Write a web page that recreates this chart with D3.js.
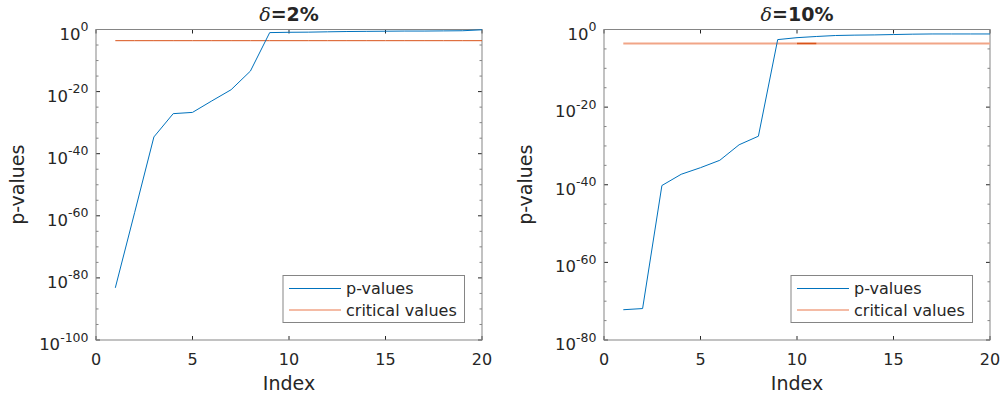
<!DOCTYPE html>
<html>
<head>
<meta charset="utf-8">
<script src="https://cdn.jsdelivr.net/npm/d3@7"></script>
<style>
  html, body { margin: 0; padding: 0; background: #fff; }
  svg { display: block; }
  text { font-family: "DejaVu Sans", sans-serif; fill: #262626; }
</style>
</head>
<body>
<svg id="chart" width="1005" height="398"></svg>
<script>
// Index positions of the sorted hypotheses
const indices = d3.range(1, 21);

// Sorted p-values, delta = 2%
const pValues2 = [6.3e-84, 1e-59, 2.5e-35, 7.9e-28, 2.0e-27, 1e-23, 4.0e-20, 4.0e-14,
  0.1, 0.126, 0.141, 0.178, 0.224, 0.251, 0.282, 0.316, 0.316, 0.355, 0.398, 0.794];

// Sorted p-values, delta = 10%
const pValues10 = [6.3e-73, 1.26e-72, 6.3e-41, 5.0e-38, 2.5e-36, 2.0e-34, 2.0e-30, 3.2e-28,
  0.0025, 0.0079, 0.0158, 0.0282, 0.0355, 0.0398, 0.0501, 0.0631, 0.0708, 0.0708, 0.0708, 0.0708];

// Critical values (same threshold for every index)
const critical2 = indices.map(() => 2.5e-4);
const critical10 = indices.map(() => 2.5e-4);

const xTicks = [0, 5, 10, 15, 20];
const yTicks2 = [-100, -80, -60, -40, -20, 0];
const yTicks10 = [-80, -60, -40, -20, 0];
const legendLabels = ["p-values", "critical values"];

const blue = "#0072BD", orange = "#D95319", lightOrange = "#f1a587";
const boxColor = "#858585";

const svg = d3.select("#chart");

function panel(opts) {
  const { left, right, top, bottom, minExp, pv, cv, yTicks, titleNum, critStyle } = opts;
  const g = svg.append("g");
  const x = d3.scaleLinear().domain([0, 20]).range([left, right]);
  const y = d3.scaleLog().domain([Math.pow(10, minExp), 1]).range([bottom, top]);

  // minor ticks every 5 decades
  const minor = d3.range(minExp, 1, 5).filter(e => e % 20 !== 0);
  minor.forEach(e => {
    const yy = y(Math.pow(10, e));
    g.append("line").attr("x1", left).attr("x2", left + 2.5).attr("y1", yy).attr("y2", yy)
      .attr("stroke", boxColor);
    g.append("line").attr("x1", right).attr("x2", right - 2.5).attr("y1", yy).attr("y2", yy)
      .attr("stroke", boxColor);
  });

  // major y ticks with labels
  yTicks.forEach(e => {
    const yy = y(Math.pow(10, e));
    g.append("line").attr("x1", left).attr("x2", left + 4).attr("y1", yy).attr("y2", yy)
      .attr("stroke", "#262626");
    g.append("line").attr("x1", right).attr("x2", right - 4).attr("y1", yy).attr("y2", yy)
      .attr("stroke", "#262626");
    const t = g.append("text").attr("x", left - 7.5).attr("y", yy + 10)
      .attr("text-anchor", "end").style("font-size", "16.5px");
    t.append("tspan").text("10");
    t.append("tspan").attr("dy", -8.5).style("font-size", "12.5px").text(String(e));
  });

  // x ticks (bottom and top) with labels
  xTicks.forEach(v => {
    const xx = x(v);
    g.append("line").attr("x1", xx).attr("x2", xx).attr("y1", bottom).attr("y2", bottom - 4)
      .attr("stroke", "#262626");
    g.append("line").attr("x1", xx).attr("x2", xx).attr("y1", top).attr("y2", top + 4)
      .attr("stroke", "#262626");
    g.append("text").attr("x", xx).attr("y", 364.5).attr("text-anchor", "middle")
      .style("font-size", "16px").text(v);
  });

  // box
  g.append("rect").attr("x", left).attr("y", top).attr("width", right - left)
    .attr("height", bottom - top).attr("fill", "none").attr("stroke", boxColor);

  const line = d3.line().x(d => x(d[0])).y(d => y(d[1]));
  const pvData = indices.map((i, k) => [i, pv[k]]);
  const cvData = indices.map((i, k) => [i, cv[k]]);

  g.append("path").attr("d", line(cvData)).attr("fill", "none")
    .attr("stroke", critStyle.color).attr("stroke-width", critStyle.width);
  if (critStyle.accent) {
    const seg = cvData.filter(d => d[0] >= critStyle.accent[0] && d[0] <= critStyle.accent[1]);
    g.append("path").attr("d", line(seg)).attr("fill", "none")
      .attr("stroke", orange).attr("stroke-width", 1.5);
  }
  g.append("path").attr("d", line(pvData)).attr("fill", "none")
    .attr("stroke", blue).attr("stroke-width", 1);

  // title
  const cx = (left + right) / 2;
  const tt = g.append("text").attr("x", cx).attr("y", 21).attr("text-anchor", "middle")
    .style("font-size", "19px").style("font-weight", "bold");
  tt.append("tspan").style("font-family", "'DejaVu Serif', serif").style("font-style", "italic")
    .style("font-weight", "normal").text("δ");
  tt.append("tspan").text("=" + titleNum + "%");

  // axis labels
  g.append("text").attr("x", cx).attr("y", 390).attr("text-anchor", "middle")
    .style("font-size", "19px").text("Index");
  g.append("text").attr("transform", `translate(${left - 72},${(top + bottom) / 2}) rotate(-90)`)
    .attr("text-anchor", "middle").style("font-size", "19px").text("p-values");

  // legend
  const lx = right - 199, ly = 275.5, lw = 181.5, lh = 47;
  g.append("rect").attr("x", lx).attr("y", ly).attr("width", lw).attr("height", lh)
    .attr("fill", "#fff").attr("stroke", boxColor);
  const colors = [blue, lightOrange];
  legendLabels.forEach((lab, k) => {
    const ry = ly + 13 + k * 21.5;
    g.append("line").attr("x1", lx + 6).attr("x2", lx + 58).attr("y1", ry).attr("y2", ry)
      .attr("stroke", colors[k]).attr("stroke-width", k === 1 ? 1.5 : 1);
    g.append("text").attr("x", lx + 63).attr("y", ry + 5.5).style("font-size", "16px").text(lab);
  });
}

panel({ left: 96, right: 482, top: 29.5, bottom: 340, minExp: -100, pv: pValues2, cv: critical2,
  yTicks: yTicks2, titleNum: 2, critStyle: { color: orange, width: 1 } });
panel({ left: 604, right: 990, top: 29.5, bottom: 340, minExp: -80, pv: pValues10, cv: critical10,
  yTicks: yTicks10, titleNum: 10, critStyle: { color: lightOrange, width: 2, accent: [10, 11] } });
</script>
</body>
</html>
